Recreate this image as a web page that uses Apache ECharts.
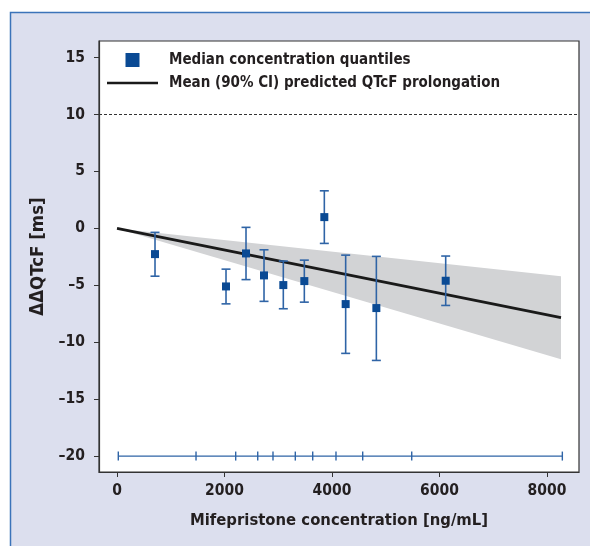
<!DOCTYPE html>
<html>
<head>
<meta charset="utf-8">
<script src="https://cdn.jsdelivr.net/npm/echarts@6/dist/echarts.min.js"></script>
<style>
html, body { margin: 0; padding: 0; background: #fff; }
#main { width: 590px; height: 546px; }
</style>
</head>
<body>
<div id="main"></div>
<script>
// median concentration quantiles: conc, median ddQTcF, lower / upper 90% CI
var quantConc = [707, 2028, 2400, 2735, 3094, 3485, 3857, 4254, 4825, 6115];
var quantMedian = [-2.26, -5.1, -2.2, -4.13, -4.98, -4.63, 0.99, -6.65, -7.0, -4.6];
var quantLow = [-4.2, -6.63, -4.5, -6.41, -7.06, -6.48, -1.32, -10.98, -11.6, -6.77];
var quantHigh = [-0.35, -3.58, 0.09, -1.88, -2.87, -2.79, 3.3, -2.35, -2.46, -2.43];

// model prediction
var predConc = [0, 8260];
var predMean = [0, -7.85];
var predLow = [0, -11.5];
var predHigh = [0, -4.2];

// quantile bin limits drawn at y = -20
var binEdges = [24, 1470, 2208, 2618, 2902, 3317, 3641, 4074, 4571, 5483, 8285];
var binLevel = -20;

var font = "'DejaVu Sans Condensed', 'Liberation Sans', sans-serif";
var txt = '#231f20';
var blue = '#0a4a94';
var barBlue = '#2f64a6';

function pairs(xs, ys) {
    return xs.map(function (x, i) { return [x, ys[i]]; });
}

var chart = echarts.init(document.getElementById('main'));

var option = {
    animation: false,
    backgroundColor: '#fff',
    graphic: [{
        type: 'rect',
        z: -10,
        shape: { x: 10.5, y: 12.5, width: 700, height: 700 },
        style: { fill: '#dcdfee', stroke: '#3b73b9', lineWidth: 1.5 }
    }],
    grid: {
        left: 99, top: 41, right: 11, bottom: 74,
        show: true,
        backgroundColor: '#fff',
        borderColor: '#333',
        borderWidth: 1.2
    },
    legend: {
        left: 102, top: 47,
        orient: 'vertical',
        itemWidth: 51, itemHeight: 14,
        itemGap: 7,
        textStyle: {
            fontFamily: font, fontSize: 15, fontWeight: 'bold', color: txt,
            lineHeight: 16, padding: [0, 0, 0, 6]
        },
        data: [
            { name: 'Median concentration quantiles', icon: 'path://M0,0h10v10h-10z' },
            { name: 'Mean (90% CI) predicted QTcF prolongation', icon: 'path://M0,0h51v2.5h-51z' }
        ]
    },
    xAxis: {
        type: 'value',
        min: -335, max: 8595,
        minInterval: 2000, maxInterval: 2000,
        name: 'Mifepristone concentration [ng/mL]',
        nameLocation: 'middle',
        nameGap: 40,
        nameTextStyle: { fontFamily: font, fontSize: 16.5, fontWeight: 'bold', color: txt },
        axisLine: { show: true, onZero: false, lineStyle: { color: '#333', width: 1.2 } },
        axisTick: { show: true, length: 5, lineStyle: { color: '#333' } },
        axisLabel: {
            fontFamily: font, fontSize: 15.5, fontWeight: 'bold', color: txt, margin: 11,
            showMinLabel: false, showMaxLabel: false,
            formatter: function (v) { return String(v); }
        },
        splitLine: { show: false }
    },
    yAxis: {
        type: 'value',
        min: -21.4, max: 16.46,
        minInterval: 5, maxInterval: 5,
        name: 'ΔΔQTcF [ms]',
        nameLocation: 'middle',
        nameGap: 46,
        nameTextStyle: { fontFamily: font, fontSize: 18.5, fontWeight: 'bold', color: txt },
        axisLine: { show: true, onZero: false, lineStyle: { color: '#333', width: 1.2 } },
        axisTick: { show: true, length: 5, lineStyle: { color: '#333' } },
        axisLabel: {
            fontFamily: font, fontSize: 15.5, fontWeight: 'bold', color: txt, margin: 14,
            showMinLabel: false, showMaxLabel: false,
            formatter: function (v) { return String(v).replace('-', '\u2013'); }
        },
        splitLine: { show: false }
    },
    series: [
        {
            name: 'band',
            type: 'custom',
            silent: true,
            z: 1,
            data: predConc.map(function (c, i) { return [c, predLow[i], predHigh[i]]; }),
            renderItem: function (params, api) {
                if (params.dataIndex !== 0) return;
                var pts = [];
                predConc.forEach(function (c, i) { pts.push(api.coord([c, predHigh[i]])); });
                for (var i = predConc.length - 1; i >= 0; i--) pts.push(api.coord([predConc[i], predLow[i]]));
                return { type: 'polygon', shape: { points: pts }, style: { fill: '#d2d3d5' } };
            }
        },
        {
            name: 'Mean (90% CI) predicted QTcF prolongation',
            type: 'line',
            data: pairs(predConc, predMean),
            symbol: 'none',
            color: '#1a1a1a',
            lineStyle: { color: '#1a1a1a', width: 2.8 },
            z: 3,
            markLine: {
                silent: true,
                symbol: 'none',
                label: { show: false },
                lineStyle: { color: '#333', type: [3, 2], width: 1 },
                data: [{ yAxis: 10 }]
            }
        },
        {
            name: 'errorBars',
            type: 'custom',
            z: 4,
            data: quantConc.map(function (c, i) { return [c, quantLow[i], quantHigh[i]]; }),
            renderItem: function (params, api) {
                var lo = api.coord([api.value(0), api.value(1)]);
                var hi = api.coord([api.value(0), api.value(2)]);
                var cap = 4.5;
                var st = { stroke: barBlue, lineWidth: 1.6 };
                return {
                    type: 'group',
                    children: [
                        { type: 'line', shape: { x1: lo[0], y1: lo[1], x2: hi[0], y2: hi[1] }, style: st },
                        { type: 'line', shape: { x1: lo[0] - cap, y1: lo[1], x2: lo[0] + cap, y2: lo[1] }, style: st },
                        { type: 'line', shape: { x1: hi[0] - cap, y1: hi[1], x2: hi[0] + cap, y2: hi[1] }, style: st }
                    ]
                };
            }
        },
        {
            name: 'Median concentration quantiles',
            type: 'scatter',
            data: pairs(quantConc, quantMedian),
            symbol: 'rect',
            symbolSize: 8,
            itemStyle: { color: blue, opacity: 1 },
            z: 5
        },
        {
            name: 'bins',
            type: 'line',
            data: binEdges.map(function (e) { return [e, binLevel]; }),
            symbol: 'rect',
            symbolSize: [1.4, 9],
            itemStyle: { color: barBlue },
            lineStyle: { color: barBlue, width: 1.3 },
            z: 3
        }
    ]
};

chart.setOption(option);
</script>
</body>
</html>
